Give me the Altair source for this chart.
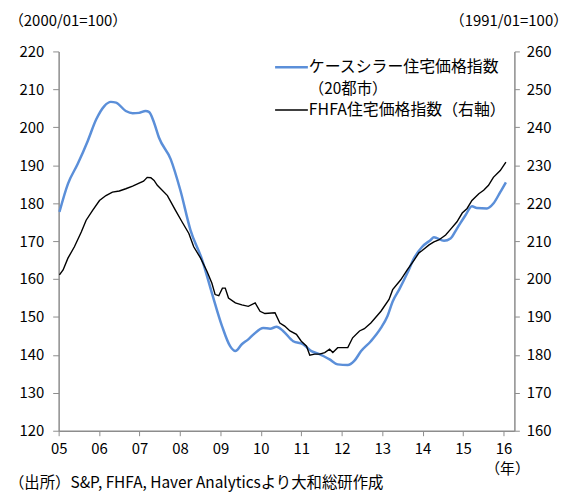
import altair as alt
import pandas as pd

# Case-Shiller 20-city index (left axis, 2000/01=100)
cs_t = [2005.02, 2005.23, 2005.47, 2005.72, 2005.93, 2006.13, 2006.29, 2006.42, 2006.66, 2006.83,
        2006.99, 2007.15, 2007.24, 2007.36, 2007.48, 2007.77, 2008.01, 2008.26, 2008.55, 2008.79,
        2009.04, 2009.24, 2009.37, 2009.53, 2009.69, 2009.82, 2010.06, 2010.23, 2010.39, 2010.55,
        2010.80, 2011.04, 2011.25, 2011.45, 2011.70, 2011.90, 2012.15, 2012.31, 2012.48, 2012.72,
        2012.97, 2013.13, 2013.26, 2013.42, 2013.62, 2013.79, 2013.99, 2014.20, 2014.28, 2014.53,
        2014.69, 2014.85, 2015.06, 2015.22, 2015.34, 2015.59, 2015.75, 2015.92, 2016.06]
cs_v = [177.7, 185.1, 190.3, 196.4, 202.1, 205.6, 206.7, 206.5, 204.3, 203.7,
        203.8, 204.3, 204.0, 201.2, 197.3, 191.6, 183.4, 172.9, 165.0, 156.3,
        147.6, 142.3, 141.0, 142.8, 144.1, 145.4, 147.1, 146.9, 147.4, 146.3,
        143.6, 142.8, 141.0, 140.2, 138.8, 137.5, 137.3, 138.4, 141.0, 143.6,
        147.1, 150.2, 154.1, 157.2, 161.5, 165.5, 168.5, 170.3, 171.0, 170.1,
        170.7, 173.3, 176.8, 179.2, 178.7, 178.6, 179.9, 182.9, 185.5]

# FHFA house price index (right axis, 1991/01=100)
fh_t = [2005.02, 2005.11, 2005.23, 2005.39, 2005.56, 2005.68, 2005.84, 2006.01, 2006.17, 2006.33,
        2006.50, 2006.66, 2006.83, 2006.99, 2007.10, 2007.19, 2007.28, 2007.36, 2007.44, 2007.69,
        2007.89, 2008.05, 2008.22, 2008.34, 2008.51, 2008.67, 2008.79, 2008.87, 2008.96, 2009.05,
        2009.12, 2009.20, 2009.37, 2009.53, 2009.69, 2009.86, 2009.98, 2010.10, 2010.35, 2010.47,
        2010.59, 2010.72, 2010.88, 2011.00, 2011.13, 2011.21, 2011.33, 2011.45, 2011.58, 2011.70,
        2011.78, 2011.90, 2012.15, 2012.27, 2012.44, 2012.56, 2012.72, 2012.97, 2013.17, 2013.26,
        2013.46, 2013.62, 2013.79, 2013.91, 2013.99, 2014.16, 2014.28, 2014.40, 2014.57, 2014.69,
        2014.85, 2014.98, 2015.10, 2015.22, 2015.39, 2015.51, 2015.63, 2015.75, 2015.92, 2016.06]
fh_v = [201.1, 202.4, 205.5, 208.5, 212.4, 215.5, 218.1, 220.7, 222.0, 222.9,
        223.2, 223.8, 224.5, 225.3, 225.8, 226.8, 226.7, 226.0, 224.7, 222.0,
        218.1, 215.1, 212.0, 208.5, 205.5, 202.0, 198.9, 195.9, 195.6, 197.6,
        197.6, 195.0, 193.7, 193.2, 192.8, 193.7, 191.5, 190.9, 191.1, 188.4,
        187.6, 186.3, 185.4, 183.6, 182.3, 179.9, 180.2, 180.2, 180.6, 181.5,
        180.6, 181.9, 181.9, 184.5, 186.3, 186.9, 188.4, 191.5, 194.6, 197.2,
        199.8, 202.4, 205.0, 206.9, 207.5, 209.0, 209.8, 210.3, 211.6, 213.1,
        215.1, 217.4, 218.6, 220.7, 222.5, 223.4, 224.7, 226.8, 228.6, 230.8]

years = list(range(2005, 2017))
left_ticks = list(range(120, 221, 10))
right_ticks = list(range(160, 261, 10))

FONT = "Noto Sans CJK JP"
BLUE = "#5B8FD9"
AX = "#8C8C8C"

cs_df = pd.DataFrame({"t": cs_t, "v": cs_v})
fh_df = pd.DataFrame({"t": fh_t, "v": fh_v})

xenc = alt.X("t:Q",
             scale=alt.Scale(domain=[2005, 2016.27], nice=False, zero=False),
             axis=alt.Axis(values=years, labelExpr="substring(toString(datum.value), 2, 4)",
                           title=None, grid=False, tickSize=5, labelPadding=6,
                           domainColor=AX, tickColor=AX, labelFlush=False))

cs_line = alt.Chart(cs_df).mark_line(color=BLUE, strokeWidth=2.5, interpolate="monotone").encode(
    x=xenc,
    y=alt.Y("v:Q", scale=alt.Scale(domain=[120, 220], nice=False, zero=False),
            axis=alt.Axis(orient="left", values=left_ticks, title=None, grid=False,
                          tickSize=6, labelPadding=9, domainColor=AX, tickColor=AX)),
)

fh_line = alt.Chart(fh_df).mark_line(color="#000000", strokeWidth=1.4).encode(
    x=alt.X("t:Q"),
    y=alt.Y("v:Q", scale=alt.Scale(domain=[160, 260], nice=False, zero=False),
            axis=alt.Axis(orient="right", values=right_ticks, title=None, grid=False,
                          tickSize=5, labelPadding=7, domainColor=AX, tickColor=AX)),
)

one = pd.DataFrame({"a": [0]})

def txt(s, x, y, align="left", size=15.5):
    return alt.Chart(one).mark_text(text=s, align=align, baseline="middle", font=FONT,
                                    fontSize=size, color="#000000").encode(
        x=alt.value(x), y=alt.value(y))

def rule(color, x1, x2, y, w):
    return alt.Chart(one).mark_rule(color=color, strokeWidth=w).encode(
        x=alt.value(x1), x2=alt.value(x2), y=alt.value(y))

layers = [
    cs_line, fh_line,
    rule(BLUE, 218, 251, 16, 2.5),
    rule("#000000", 218, 251, 59, 1.4),
    txt("ケースシラー住宅価格指数", 252, 16, size=16),
    txt("（20都市）", 252, 38, size=15.5),
    txt("FHFA住宅価格指数（右軸）", 252, 59.5, size=16),
    txt("（2000/01=100）", -50, -31, size=15),
    txt("（1991/01=100）", 513, -31, align="right", size=15),
    txt("（年）", 452, 421, align="center", size=15),
    txt("（出所）S&P, FHFA, Haver Analyticsより大和総研作成", -50, 435, size=15.5),
]

chart = alt.layer(*layers).resolve_scale(y="independent").properties(
    width=459, height=382,
    autosize=alt.AutoSizeParams(type="none"),
    padding={"left": 51, "top": 42, "right": 56, "bottom": 66},
).configure_view(stroke=None).configure_axis(
    labelFont=FONT, labelFontSize=15, labelColor="#000000", domainWidth=1.5
)

chart.save("out.html", embed_options={"renderer": "svg", "actions": False})
